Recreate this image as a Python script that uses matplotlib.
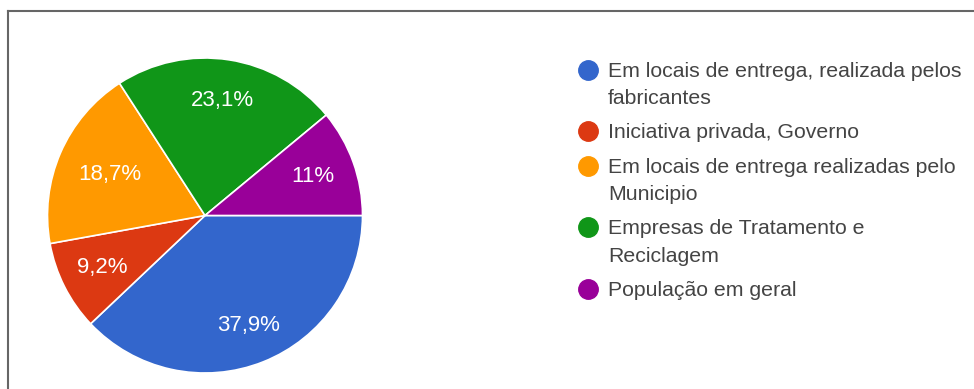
import numpy as np
import matplotlib.pyplot as plt
from matplotlib.lines import Line2D

plt.rcParams['font.family'] = ['Liberation Sans', 'DejaVu Sans']

labels = [
    'Em locais de entrega, realizada pelos\nfabricantes',
    'Iniciativa privada, Governo',
    'Em locais de entrega realizadas pelo\nMunicipio',
    'Empresas de Tratamento e\nReciclagem',
    'População em geral',
]
values = [37.9, 9.2, 18.7, 23.1, 11.0]
pct_text = ['37,9%', '9,2%', '18,7%', '23,1%', '11%']
colors = ['#3366cc', '#dc3912', '#ff9900', '#109618', '#990099']
# how far from the centre each percentage sits (fraction of radius)
label_r = [0.75, 0.73, 0.66, 0.74, 0.73]

W, H = 974, 389
fig = plt.figure(figsize=(W / 100, H / 100), dpi=100)


def fx(px):
    return px / W


def fy(py):
    return 1 - py / H


# pie centred at (205, 215.5) px with radius 157.5 px
cx, cy, r = 205, 215.5, 157.5
ax = fig.add_axes([fx(cx - r), fy(cy + r), 2 * r / W, 2 * r / H])
wedges, _ = ax.pie(values, colors=colors, startangle=0, counterclock=False,
                   radius=1, wedgeprops=dict(edgecolor='white', linewidth=1.2))
ax.set_xlim(-1, 1)
ax.set_ylim(-1, 1)
ax.set_aspect('equal')
ax.axis('off')

for w, txt, d in zip(wedges, pct_text, label_r):
    mid = np.deg2rad((w.theta1 + w.theta2) / 2)
    ax.text(d * np.cos(mid), d * np.sin(mid), txt, ha='center', va='center',
            color='white', fontsize=16)

# legend drawn by hand: round marker + wrapped label lines
line_step = 27     # px between wrapped lines
entry_gap = 34.5   # px from an entry's last line to the next entry
y = 69.5
for lab, c in zip(labels, colors):
    fig.add_artist(Line2D([fx(588)], [fy(y)], marker='o', markersize=14,
                          markerfacecolor=c, markeredgecolor=c,
                          linestyle='none'))
    parts = lab.split('\n')
    for k, part in enumerate(parts):
        fig.text(fx(608), fy(y + k * line_step + 7.5), part, ha='left',
                 va='baseline', fontsize=15.3, color='#444444')
    y += (len(parts) - 1) * line_step + entry_gap

# thin frame along the top and left edges
fig.add_artist(Line2D([fx(7.5), 1], [fy(10.5), fy(10.5)],
                      color='#666666', linewidth=1.5))
fig.add_artist(Line2D([fx(7.5), fx(7.5)], [0, fy(10.5)],
                      color='#666666', linewidth=1.5))

fig.savefig('out.png', dpi=100, facecolor='white')
